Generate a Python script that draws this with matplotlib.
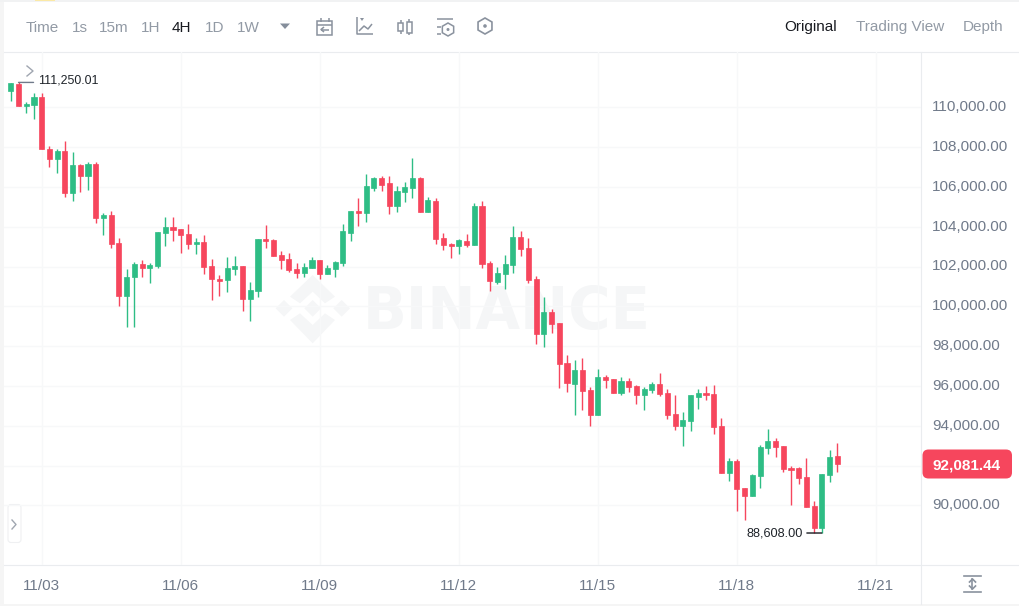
import matplotlib
matplotlib.use("Agg")
import matplotlib.pyplot as plt
from matplotlib.patches import FancyBboxPatch, Polygon, Circle, Rectangle
from matplotlib.ticker import FuncFormatter
from matplotlib.transforms import ScaledTranslation

opens = [110836,111171,110065,110133,110535,107922,107419,107787,105711,107084,
         106548,107151,104454,104588,103198,100501,101456,102126,101942,102026,
         103700,104002,103868,103633,103114,103232,102026,101389,101305,101892,
         102025,100384,100753,103399,103332,102595,102361,101858,101657,101942,
         102327,101607,101892,102176,103701,104806,104672,105962,106447,106179,
         105024,105761,105962,106447,104739,105308,103449,103131,103014,103298,
         103063,105040,102192,101238,101606,102092,103482,102929,101388,98625,
         99697,99144,97167,96112,96799,95794,94554,96430,96330,95643,
         96263,96012,95559,95794,96095,95643,94588,93985,94236,95442,
         95660,95576,93968,91640,92226,90853,90484,91489,92879,93214,
         92980,91891,91874,91422,89965,88859,91539,92461]
highs = [111205,111250.01,110283,110702,110702,108055,107888,108307,107737,107134,
         107252,107252,104672,104806,103449,101858,102243,102310,102159,103751,
         104488,104505,103902,104153,103416,103583,102361,101590,102461,102511,
         102025,101205,103399,104069,103382,102796,102662,102160,102193,102461,
         102327,102093,102277,104136,104806,105459,106648,106481,106548,106548,
         106045,106263,107469,106481,105476,105459,103684,103164,103399,103633,
         105174,105291,102259,101958,102561,104052,103767,103449,101506,100467,
         99847,99144,97536,97285,97385,95928,96832,96531,96347,96447,
         96397,96028,95961,96179,96631,95861,95543,94705,95543,95861,
         96012,96029,94387,92360,92327,90853,91573,93030,93817,93382,
         92980,91975,91908,92360,90199,91573,92779,93114]
lows = [110317,110065,109697,109429,107888,106984,106716,105510,105292,105744,
        105828,104186,103600,102913,99999,98944,98960,101490,101155,101909,
        103047,103298,102696,102897,102628,101623,100300,100535,100736,101557,
        99781,99262,100485,102947,102545,101892,101707,101439,101490,101942,
        101389,101607,101490,102042,103299,104035,104253,105811,105811,104655,
        104756,105241,105459,104739,104739,103148,102829,102444,102645,102997,
        103063,101941,100785,101120,100886,101656,102544,101171,98122,97971,
        98675,95911,95710,94538,94806,94002,94554,95911,95626,95559,
        95710,95090,94806,95626,95509,94353,93767,92997,93751,94839,
        95291,93566,91607,91221,89697,89261,90484,90886,92578,92444,
        91657,90032,91070,89898,88625,88608,91188,91690]
closes = [111205,110065,110183,110535,107888,107419,107787,105711,107084,106548,
          107151,104454,104588,103148,100501,101490,102126,101942,102076,103734,
          104002,103835,103600,103148,103232,101975,101355,101289,101908,102026,
          100384,100803,103399,103299,102545,102310,101808,101657,101992,102327,
          101607,101942,102243,103767,104806,104672,106029,106464,106112,105024,
          105811,106012,106447,104739,105325,103399,103081,103014,103315,103064,
          105040,102125,101254,101656,102125,103482,102879,101321,98625,99697,
          99110,97117,96129,96799,95744,94538,96430,96296,95643,96263,
          95961,95559,95827,96095,95593,94521,93985,94270,95526,95660,
          95526,93935,91640,92209,90836,90484,91523,92930,93214,92930,
          91841,91791,91389,89915,88859,91556,92444,92081.44]

date_positions = [4, 22, 40, 58, 76, 94, 112]
date_labels = ["11/03", "11/06", "11/09", "11/12", "11/15", "11/18", "11/21"]
price_ticks = [90000, 92000, 94000, 96000, 98000, 100000, 102000, 104000, 106000, 108000, 110000]
peak_label = "111,250.01"
trough_label = "88,608.00"
last_label = "92,081.44"
intervals = ["Time", "1s", "15m", "1H", "4H", "1D", "1W"]
views = ["Original", "Trading View", "Depth"]

GREEN, RED = "#2EBD85", "#F6465D"
GREY, TICK, DARK = "#929AA5", "#707A8A", "#181A20"
LINE, GRID = "#EAECEF", "#F7F8F9"
FONT = "Liberation Sans"
plt.rcParams["font.family"] = [FONT, "DejaVu Sans"]

fig = plt.figure(figsize=(10.2, 6.06), dpi=100, facecolor="white")

# page furniture in pixel coordinates
ui = fig.add_axes([0, 0, 1, 1], zorder=0)
ui.set_xlim(0, 1020); ui.set_ylim(606, 0); ui.axis("off")
ui.add_patch(Rectangle((0, 0), 4, 606, fc="#F5F5F5", ec="none"))
ui.add_patch(Rectangle((0, 0), 1020, 2, fc="#F1F2F3", ec="none"))
ui.add_patch(Rectangle((0, 603.5), 1020, 2.5, fc="#F5F5F5", ec="none"))
ui.add_patch(Rectangle((35, 0), 20, 1.3, fc="#FBE9A6", ec="none"))
ui.plot([4, 1020], [51.5, 51.5], color=LINE, lw=0.8)
ui.plot([4, 1020], [564.5, 564.5], color=LINE, lw=0.8)
ui.plot([921.5, 921.5], [51.5, 603.5], color=LINE, lw=0.8)

# toolbar text
for label, x in zip(intervals, [26, 72, 99, 141, 172, 205, 237]):
    active = label == "4H"
    ui.text(x, 27.5, label, fontsize=11, color=DARK if active else GREY, va="center", ha="left")
for label, x in zip(views, [784, 856, 963]):
    ui.text(x, 27.5, label, fontsize=11, color=DARK if label == "Original" else GREY, va="center", ha="left")
ui.add_patch(Polygon([(280, 23.5), (290, 23.5), (285, 29)], fc=TICK, ec="none", alpha=.85))

ic = dict(color="#8A929E", lw=1.1, solid_capstyle="butt")
# calendar
ui.add_patch(Rectangle((317.5, 20.5), 15, 14, fc="none", ec=ic["color"], lw=1.1))
ui.plot([317.5, 332.5], [24.5, 24.5], **ic)
ui.plot([321, 321], [18, 22], **ic); ui.plot([329, 329], [18, 22], **ic)
ui.plot([321, 329], [29.5, 29.5], **ic); ui.plot([324, 321, 324], [27, 29.5, 32], **ic)
# line chart
ui.plot([357, 357, 373], [17, 34, 34], **ic)
ui.plot([359, 364, 368, 372], [31, 26, 29, 24], **ic)
ui.add_patch(Polygon([(360, 18), (364, 18), (362, 21)], fc=ic["color"], ec="none"))
# candles
ui.plot([401, 401], [20, 34], **ic); ui.plot([409.5, 409.5], [18.5, 35], **ic)
ui.add_patch(Rectangle((398.5, 23), 5, 8, fc="white", ec=ic["color"], lw=1.1, zorder=3))
ui.add_patch(Rectangle((407, 21.5), 5, 11, fc="white", ec=ic["color"], lw=1.1, zorder=3))
# settings
ui.plot([437, 453], [19, 19], **ic); ui.plot([437, 441], [26.5, 26.5], **ic); ui.plot([437, 441], [33.5, 33.5], **ic)
def hexagon(cx, cy, r):
    return [(cx, cy - r), (cx + .87 * r, cy - r / 2), (cx + .87 * r, cy + r / 2), (cx, cy + r),
            (cx - .87 * r, cy + r / 2), (cx - .87 * r, cy - r / 2)]
ui.add_patch(Polygon(hexagon(448, 29.5, 6.5), fc="none", ec=ic["color"], lw=1.1))
ui.add_patch(Circle((448, 29.5), 1.5, fc=ic["color"], ec="none"))
ui.add_patch(Polygon(hexagon(485, 26, 8), fc="none", ec=ic["color"], lw=1.2))
ui.add_patch(Circle((485, 26), 1.8, fc=ic["color"], ec="none"))

# watermark
wm = "#F5F6F7"
def off(pts):
    return [(260 + a / 3, 260 + b / 3) for a, b in pts]
ui.add_patch(Polygon(off([(158, 45), (225, 110), (195, 130), (158, 95), (120, 130), (90, 110)]), fc=wm, ec="none"))
ui.add_patch(Polygon(off([(158, 250), (225, 180), (195, 160), (158, 195), (120, 160), (90, 180)]), fc=wm, ec="none"))
for cx in (72, 158, 245):
    ui.add_patch(Polygon(off([(cx, 120), (cx + 25, 145), (cx, 170), (cx - 25, 145)]), fc=wm, ec="none"))
ui.text(363, 313, "BINANCE", fontsize=41.5, fontweight="bold", family="DejaVu Sans", color=wm, va="center", ha="left")

# side button and scale icon
ui.add_patch(FancyBboxPatch((8, 504.5), 13, 38, boxstyle="round,pad=0,rounding_size=3", fc="white", ec="#EFF0F2", lw=0.8))
ui.plot([12, 16, 12], [520, 524.5, 529], color="#A0A6B0", lw=1)
ui.plot([27, 33, 27], [66, 71, 76], color="#A0A6B0", lw=1, zorder=5)
ic2 = dict(color="#8A929E", lw=1.2)
ui.plot([964, 981], [576, 576], **ic2); ui.plot([964, 981], [592, 592], **ic2)
ui.plot([972.5, 972.5], [579, 589], **ic2)
ui.plot([969.5, 972.5, 975.5], [582, 579, 582], **ic2); ui.plot([969.5, 972.5, 975.5], [586, 589, 586], **ic2)

# price chart
ax = fig.add_axes([4 / 1020, 1 - 564.5 / 606, 917.5 / 1020, 513 / 606], zorder=1)
ax.patch.set_alpha(0)
ax.set_xlim(-0.88, 117.9)
ax.set_ylim(110000 - (564.5 - 107.3) * 50.25, 110000 - (51.5 - 107.3) * 50.25)
for s in ax.spines.values():
    s.set_visible(False)
ax.set_yticks(price_ticks)
ax.yaxis.set_major_formatter(FuncFormatter(lambda v, _: f"{v:,.2f}"))
ax.yaxis.tick_right()
ax.set_xticks(date_positions)
ax.set_xticklabels(date_labels)
ax.tick_params(axis="y", length=0, pad=7.5, labelsize=11, labelcolor=TICK)
ax.tick_params(axis="x", length=0, pad=10.7, labelsize=11, labelcolor=TICK)
lift = ScaledTranslation(0, 1.6 / 100, fig.dpi_scale_trans)
for t in ax.yaxis.get_major_ticks():
    t.label2.set_transform(t.label2.get_transform() + lift)
ax.grid(True, color=GRID, lw=1)
ax.set_axisbelow(True)

for i, (o, h, l, c) in enumerate(zip(opens, highs, lows, closes)):
    col = GREEN if c >= o else RED
    ax.vlines(i, l, h, color=col, lw=1.0, zorder=3)
    ax.bar(i, abs(c - o), bottom=min(o, c), width=0.66, color=col, lw=0.5, edgecolor=col, zorder=4)

ax.annotate("", xy=(highs.index(max(highs)), max(highs)), xytext=(15, 0), textcoords="offset pixels",
            arrowprops=dict(arrowstyle="-", color="#707A8A", lw=1, shrinkA=0, shrinkB=0), zorder=5)
ax.annotate(peak_label, xy=(highs.index(max(highs)), max(highs)), xytext=(20, 2), textcoords="offset pixels",
            fontsize=8.9, color="#1E2329", va="center", ha="left", zorder=5)
ax.annotate("", xy=(lows.index(min(lows)), min(lows)), xytext=(-15, 0), textcoords="offset pixels",
            arrowprops=dict(arrowstyle="-", color="#181A20", lw=1, shrinkA=0, shrinkB=0), zorder=5)
ax.annotate(trough_label, xy=(lows.index(min(lows)), min(lows)), xytext=(-19, 0), textcoords="offset pixels",
            fontsize=9.2, color="#1E2329", va="center", ha="right", zorder=5)

# last-price tag
tag = fig.add_axes([0, 0, 1, 1], zorder=2)
tag.set_xlim(0, 1020); tag.set_ylim(606, 0); tag.axis("off")
tag.add_patch(FancyBboxPatch((922.5, 449.5), 89.5, 29, boxstyle="round,pad=0,rounding_size=6", fc=RED, ec="none"))
tag.text(967, 465, last_label, fontsize=11, color="white", fontweight="bold", va="center", ha="center")

fig.savefig("out.png", dpi=100)
